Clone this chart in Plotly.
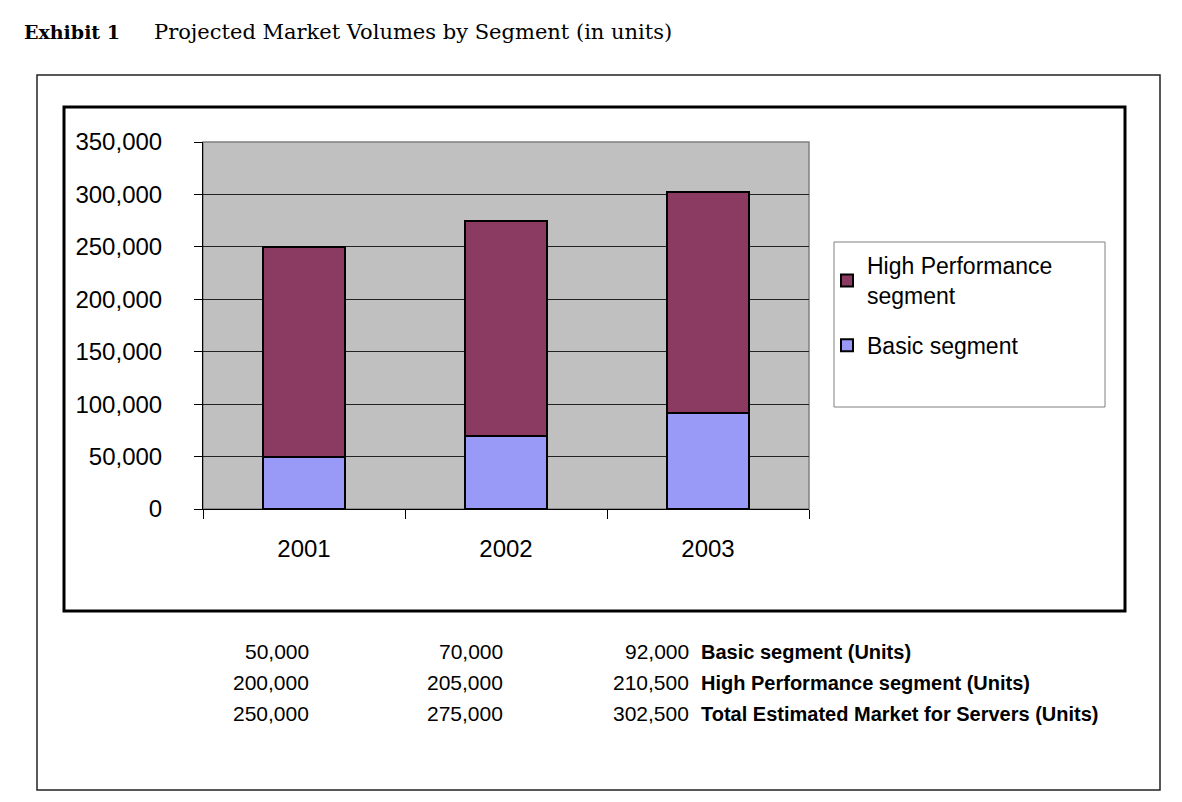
import plotly.graph_objects as go

years = ["2001", "2002", "2003"]
basic = [50000, 70000, 92000]
high_perf = [200000, 205000, 210500]
total = [250000, 275000, 302500]
row_labels = ["Basic segment (Units)", "High Performance segment (Units)",
              "Total Estimated Market for Servers (Units)"]

W, H = 1182, 802
PX0, PX1, PY0, PY1 = 203, 809, 142, 509


def px(x):
    return (x - PX0) / (PX1 - PX0)


def py(y):
    return (PY1 - y) / (PY1 - PY0)


fig = go.Figure()
fig.add_trace(go.Bar(x=years, y=basic, name="Basic segment", legendgroup="b", legendrank=2,
                     marker=dict(color="#9999F8", line=dict(color="black", width=2))))
fig.add_trace(go.Bar(x=years, y=high_perf, name="High Performance<br>segment", legendgroup="h",
                     legendrank=1,
                     marker=dict(color="#8B3A62", line=dict(color="black", width=2))))

shapes = [
    dict(type="rect", xref="paper", yref="paper", x0=px(37), x1=px(1160), y0=py(75), y1=py(790),
         line=dict(color="#222", width=1.5), layer="above"),
    dict(type="rect", xref="paper", yref="paper", x0=px(64), x1=px(1125), y0=py(107), y1=py(611),
         line=dict(color="black", width=3), layer="above"),
    dict(type="rect", xref="paper", yref="paper", x0=0, x1=1, y0=0, y1=1,
         line=dict(color="#808080", width=1.5), layer="below"),
    dict(type="rect", xref="paper", yref="paper", x0=px(834), x1=px(1105), y0=py(242), y1=py(407),
         line=dict(color="#808080", width=1), fillcolor="white", layer="below"),
]

annotations = [
    dict(text="<b>Exhibit 1</b>", x=px(22), y=py(32), xref="paper", yref="paper",
         xanchor="left", yanchor="middle", showarrow=False,
         font=dict(family="DejaVu Serif", size=19, color="black")),
    dict(text="Projected Market Volumes by Segment (in units)", x=px(152), y=py(32),
         xref="paper", yref="paper", xanchor="left", yanchor="middle", showarrow=False,
         font=dict(family="DejaVu Serif", size=21, color="black")),
]

col_x = [311, 505, 691]
row_y = [651, 682, 713]
rows = [basic, high_perf, total]
for r, vals in enumerate(rows):
    for c, v in enumerate(vals):
        annotations.append(dict(text=f"{v:,}", x=px(col_x[c]), y=py(row_y[r]),
                                xref="paper", yref="paper", xanchor="right", yanchor="middle",
                                showarrow=False,
                                font=dict(family="Arial, Liberation Sans", size=21, color="black")))
    annotations.append(dict(text=f"<b>{row_labels[r]}</b>", x=px(699), y=py(row_y[r] + 1),
                            xref="paper", yref="paper", xanchor="left", yanchor="middle",
                            showarrow=False,
                            font=dict(family="Arial, Liberation Sans", size=20, color="black")))

fig.update_layout(
    width=W, height=H, autosize=False,
    margin=dict(l=PX0, r=W - PX1, t=PY0, b=H - PY1, pad=0),
    paper_bgcolor="white", plot_bgcolor="#C0C0C0",
    barmode="stack", bargap=0.594,
    font=dict(family="Arial, Liberation Sans", size=23, color="black"),
    shapes=shapes, annotations=annotations,
    legend=dict(x=px(827), y=py(244), xanchor="left", yanchor="top",
                traceorder="grouped", tracegroupgap=17,
                bgcolor="rgba(0,0,0,0)", borderwidth=0,
                font=dict(family="Arial, Liberation Sans", size=23, color="black")),
    xaxis=dict(type="category", tickson="boundaries", ticks="outside", ticklen=9,
               tickcolor="black", showline=True, linecolor="black", linewidth=1,
               showgrid=False, ticklabelstandoff=18,
               tickfont=dict(family="Arial, Liberation Sans", size=24, color="black")),
    yaxis=dict(range=[0, 350000], dtick=50000, tickformat=",", ticks="outside", ticklen=8,
               tickcolor="black", showline=True, linecolor="black", linewidth=1,
               showgrid=True, gridcolor="#222", gridwidth=1, zeroline=False,
               ticklabelstandoff=27,
               tickfont=dict(family="Arial, Liberation Sans", size=24, color="black")),
)

fig.write_html("out.html", config={"displayModeBar": False},
               post_script="document.body.style.margin='0px';")
